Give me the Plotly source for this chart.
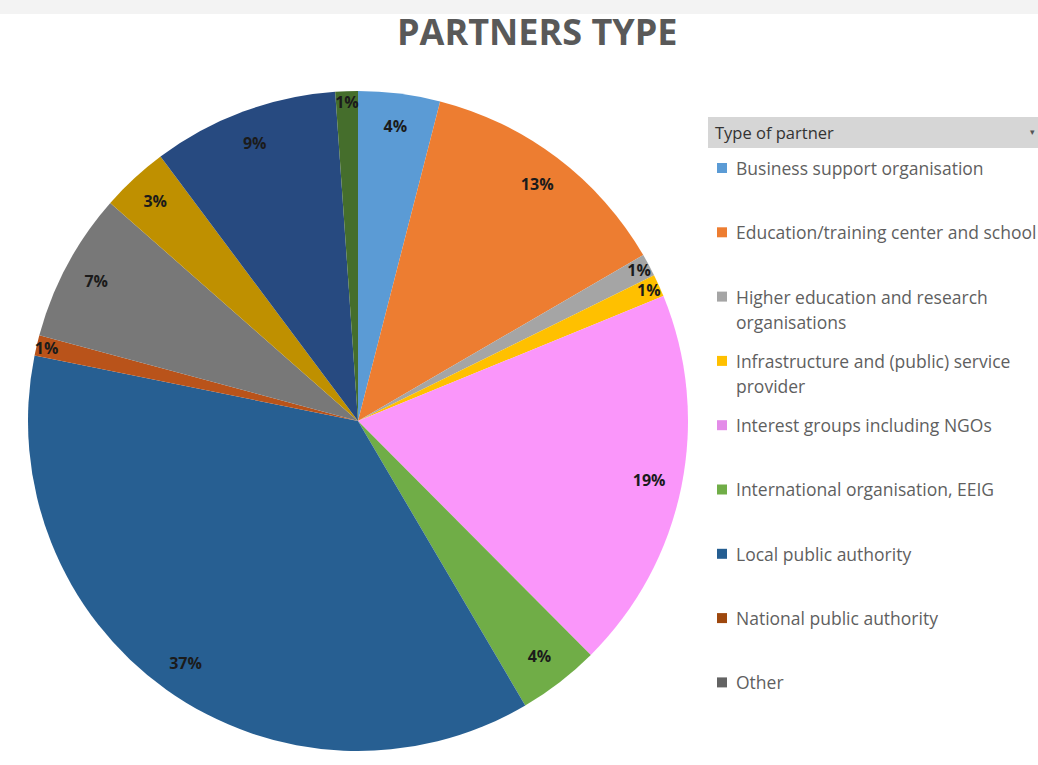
import plotly.graph_objects as go

# ---- data ----
categories = [
    "Business support organisation",
    "Education/training center and school",
    "Higher education and research organisations",
    "Infrastructure and (public) service provider",
    "Interest groups including NGOs",
    "International organisation, EEIG",
    "Local public authority",
    "National public authority",
    "Other",
    "Regional public authority",
    "Sectoral agency",
    "SME",
]
shares = [4.0, 12.6, 1.1, 1.1, 18.7, 4.0, 36.6, 1.0, 7.3, 3.3, 9.1, 1.1]
slice_colors = [
    "#5B9BD5", "#ED7D31", "#A5A5A5", "#FFC000", "#FA96FA", "#70AD47",
    "#275F92", "#B9531A", "#787878", "#BF9000", "#274A80", "#456E2C",
]
legend_lines = [
    ["Business support organisation"],
    ["Education/training center and school"],
    ["Higher education and research", "organisations"],
    ["Infrastructure and (public) service", "provider"],
    ["Interest groups including NGOs"],
    ["International organisation, EEIG"],
    ["Local public authority"],
    ["National public authority"],
    ["Other"],
]
legend_colors = ["#5B9BD5", "#ED7D31", "#A5A5A5", "#FFC000", "#E38CE8",
                 "#70AD47", "#255E91", "#9E480E", "#636363"]
legend_title = "Type of partner"
chart_title = "PARTNERS TYPE"

W, H = 1038, 765
dom = dict(x=[28 / W, 688 / W], y=[1 - 752 / H, 1 - 90 / H])

fig = go.Figure()
fig.add_trace(go.Pie(
    labels=categories, values=shares, sort=False, direction="clockwise",
    rotation=0, marker=dict(colors=slice_colors, line=dict(width=0)),
    textinfo="none", hoverinfo="label+percent", domain=dom, showlegend=False,
))
fig.add_trace(go.Pie(
    labels=categories, values=shares, sort=False, direction="clockwise",
    rotation=0, hole=0.8,
    marker=dict(colors=["rgba(0,0,0,0)"] * len(categories), line=dict(width=0)),
    texttemplate="%{percent:.0%}", textposition="inside",
    insidetextorientation="horizontal",
    textfont=dict(family="Open Sans", size=16, color="#1b1b1b", weight="bold"),
    hoverinfo="skip", domain=dom, showlegend=False,
))

shapes = [
    dict(type="rect", xref="paper", yref="paper", x0=0, x1=1, y0=1 - 14 / H, y1=1,
         fillcolor="#f3f3f3", line=dict(width=0), layer="below"),
    dict(type="rect", xref="paper", yref="paper", x0=708 / W, x1=1, y0=1 - 148 / H, y1=1 - 117 / H,
         fillcolor="#d6d6d6", line=dict(width=0)),
]
annotations = [
    dict(text=chart_title, x=537 / W, y=1 - 32 / H, xref="paper", yref="paper",
         showarrow=False, xanchor="center", yanchor="middle",
         font=dict(family="Open Sans", size=36, color="#595959", weight="bold")),
    dict(text=legend_title, x=713 / W, y=1 - 132 / H, xref="paper", yref="paper",
         showarrow=False, xanchor="left", yanchor="middle",
         font=dict(family="Open Sans", size=16.5, color="#333333")),
    dict(text="▾", x=1037 / W, y=1 - 132 / H, xref="paper", yref="paper",
         showarrow=False, xanchor="right", yanchor="middle",
         font=dict(family="DejaVu Sans", size=9, color="#555555")),
]
y0, step, lstep = 168, 64.3, 25
for i, (lines, col) in enumerate(zip(legend_lines, legend_colors)):
    yc = y0 + i * step
    shapes.append(dict(type="rect", xref="paper", yref="paper",
                       x0=717 / W, x1=727 / W, y0=1 - (yc + 5) / H, y1=1 - (yc - 5) / H,
                       fillcolor=col, line=dict(width=0)))
    for j, line in enumerate(lines):
        annotations.append(dict(
            text=line, x=734 / W, y=1 - (yc + j * lstep) / H, xref="paper", yref="paper",
            showarrow=False, xanchor="left", yanchor="middle",
            font=dict(family="Open Sans", size=17.5, color="#5f5f5f")))

fig.update_layout(
    width=W, height=H, margin=dict(l=0, r=0, t=0, b=0),
    paper_bgcolor="white", plot_bgcolor="white",
    shapes=shapes, annotations=annotations,
    uniformtext=dict(minsize=16, mode="show"),
)
fig.write_html("out.html", config={"displayModeBar": False},
               post_script="document.body.style.margin='0';")
